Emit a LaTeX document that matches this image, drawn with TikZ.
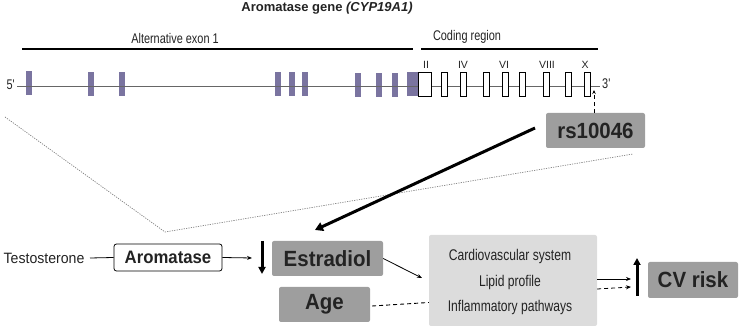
\documentclass[tikz,border=0pt]{standalone}
\usepackage{fontspec}
\setmainfont{Liberation Sans}
\newfontfamily\cond[FakeStretch=0.78]{Liberation Sans}
\newfontfamily\reg[FakeStretch=0.94]{Liberation Sans}
\newfontfamily\bcond[FakeStretch=0.93]{Liberation Sans}
\usetikzlibrary{arrows.meta}
\definecolor{exonpurple}{RGB}{122,116,160}
\definecolor{boxgray}{RGB}{158,158,158}
\definecolor{lightbox}{RGB}{220,220,220}
\definecolor{txt}{RGB}{35,35,35}
\tikzset{
  cexon/.style={fill=white,draw=black,line width=0.8pt},
  graybox/.style={fill=boxgray,rounded corners=2pt,inner sep=0pt,text=txt,font=\bcond\bfseries\fontsize{22}{24}\selectfont},
  thin arrow/.style={-{Stealth[length=5pt,width=4pt]},line width=0.8pt},
  thick arrow/.style={-{Triangle[length=8pt,width=9pt]},line width=3pt},
  updown/.style={-{Triangle[length=7pt,width=7pt]},line width=3pt},
  longdash/.style={dash pattern=on 4pt off 3pt},
  zoomline/.style={gray,line width=0.7pt,dash pattern=on 1.2pt off 1.2pt},
  condtext/.style={font=\cond\fontsize{14}{16}\selectfont,inner sep=0pt,text=txt},
  systext/.style={font=\cond\fontsize{15.5}{17}\selectfont,text=txt,inner sep=0pt},
  exlabel/.style={font=\fontsize{10.5}{12}\selectfont,inner sep=0pt,text=txt}
}
\begin{document}
\begin{tikzpicture}[x=1pt,y=-1pt]
\useasboundingbox (0,0) rectangle (740,328);
% title
\node[font=\bfseries\fontsize{13}{15}\selectfont,text=txt,inner sep=0pt] (title) at (327,8) {Aromatase gene \textit{(CYP19A1)}};
% region lines
\coordinate (a1) at (22,49); \coordinate (a2) at (413,49);
\coordinate (c1) at (421,49); \coordinate (c2) at (598,49);
\draw[line width=1.4pt] (a1) -- (a2);
\draw[line width=1.4pt] (c1) -- (c2);
\node[condtext] (alt) at (175,39) {Alternative exon 1};
\node[condtext] (cod) at (467,37) {Coding region};
% gene line
\coordinate (g1) at (17,86); \coordinate (g2) at (600,86);
\node[condtext,anchor=east] (five) at (15,85) {5'};
\node[condtext,anchor=west] (three) at (602,84) {3'};
% alternative exons
\foreach \x/\y in {26/71,88/72,119/72,275/72,289/72,302/72,355/73,376/73,392/73}
  \fill[exonpurple] (\x,\y) rectangle ++(5.5,24);
\fill[exonpurple] (407,72) rectangle (418,96);
\draw[gray!80!black,line width=0.8pt] (g1) -- (g2);
% coding exons
\draw[cexon] (418,72) rectangle (431,96);
\foreach \x in {441,460,483,502,519,543,565,584}
  \draw[cexon] (\x,72) rectangle ++(6,24);
\node[exlabel] (lII) at (426,65) {II};
\node[exlabel] (lIV) at (463,65) {IV};
\node[exlabel] (lVI) at (504,65) {VI};
\node[exlabel] (lVIII) at (547,65) {VIII};
\node[exlabel] (lX) at (585,65) {X};
% zoom lines
\coordinate (z1) at (5,117); \coordinate (z2) at (165,232); \coordinate (z3) at (633,154);
\draw[zoomline] (z1) -- (z2) -- (z3);
% rs box
\node[graybox,minimum width=99pt,minimum height=35pt] (rs) at (595.5,130.5) {rs10046};
\coordinate (snp) at (594,90);
\draw[longdash,line width=0.9pt,-{Stealth[length=4pt,width=3.5pt]}] (rs.north -| snp) -- (snp);
% lower row
\node[font=\reg\fontsize{15}{17}\selectfont,inner sep=0pt,text=txt] (testo) at (44,258) {Testosterone};
\node[draw=black,line width=0.8pt,rounded corners=2.5pt,fill=white,minimum width=108pt,minimum height=27pt,inner sep=0pt,font=\bcond\bfseries\fontsize{18}{20}\selectfont,text=txt] (arom) at (168,257.5) {Aromatase};
\node[graybox,minimum width=111pt,minimum height=35pt] (estr) at (327.5,258.5) {Estradiol};
\node[graybox,minimum width=91pt,minimum height=35pt] (age) at (324.5,304.5) {Age};
\node[fill=lightbox,rounded corners=2pt,minimum width=168pt,minimum height=91pt,inner sep=0pt] (sys) at (513,280.5) {};
\node[systext] (t1) at (510,256) {Cardiovascular system};
\node[systext] (t2) at (510,282) {Lipid profile};
\node[systext] (t3) at (510,307) {Inflammatory pathways};
\node[graybox,minimum width=90pt,minimum height=36pt] (cv) at (693,280) {CV risk};
% connectors
\coordinate (te) at (90,258);
\draw[line width=0.8pt] (te) -- (arom.west);
\coordinate (ae) at (252,258);
\draw[thin arrow] (arom.east) -- (ae);
\coordinate (d1) at (262,241); \coordinate (d2) at (262,274);
\draw[updown] (d1) -- (d2);
\coordinate (rsstart) at (535,128);
\coordinate (estrtop) at (315,230);
\draw[thick arrow] (rsstart) -- (estrtop);
\coordinate (sysin) at (422,278);
\draw[thin arrow] (estr.east) -- (sysin);
\draw[longdash,line width=0.9pt] ([xshift=2pt,yshift=-1.5pt]age.east) -- ([yshift=-22pt]sys.west);
\coordinate (o1) at (631,279); \coordinate (o2) at (631,287);
\draw[thin arrow] ([yshift=1.5pt]sys.east) -- (o1);
\draw[thin arrow,longdash] ([yshift=-8.5pt]sys.east) -- (o2);
\coordinate (u1) at (637,296); \coordinate (u2) at (637,258);
\draw[updown] (u1) -- (u2);
\end{tikzpicture}
\end{document}
